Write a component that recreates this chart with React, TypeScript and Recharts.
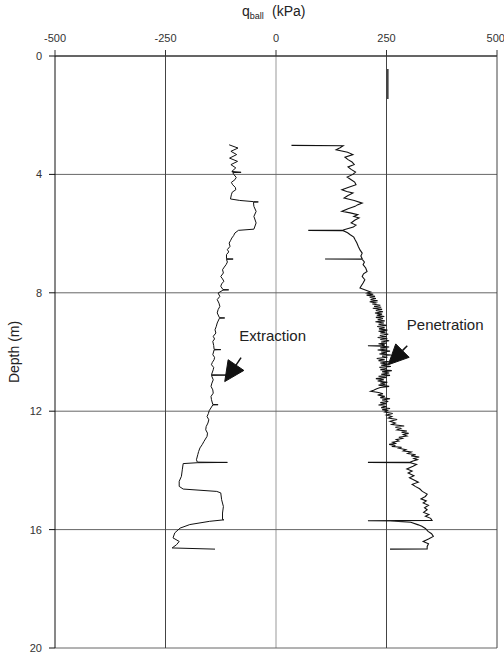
import {
  ScatterChart,
  Scatter,
  XAxis,
  YAxis,
  ReferenceLine,
  ReferenceDot,
} from "recharts";

const FONT = "'Liberation Sans', Arial, sans-serif";

const qTicks = [-500, -250, 0, 250, 500];
const depthTicks = [0, 4, 8, 12, 16, 20];
const darkGridQ = [-250, 250, 500];
const lightGridQ = [0];
const gridDepth = [4, 8, 12, 16, 20];

// extraction profile (negative resistance)
const extractionDepth = [
  3.0, 3.11, 3.22, 3.33, 3.45, 3.56, 3.67, 3.78, 3.9, 3.93, 3.94, 4.01, 4.1, 4.18, 4.27, 4.35, 4.44, 4.52, 4.6,
  4.69, 4.83, 4.88, 4.92, 4.93, 4.94, 5.08, 5.25, 5.42, 5.64, 5.85, 5.89, 5.98, 6.07, 6.15, 6.24, 6.32, 6.43,
  6.54, 6.62, 6.71, 6.85, 6.86, 6.87, 6.96, 7.05, 7.13, 7.22, 7.33, 7.45, 7.53, 7.61, 7.7, 7.78, 7.89, 7.9,
  7.91, 8.01, 8.12, 8.23, 8.35, 8.46, 8.57, 8.68, 8.84, 8.85, 8.86, 9.02, 9.13, 9.25, 9.36, 9.47, 9.56, 9.64,
  9.78, 9.91, 9.92, 9.93, 10.09, 10.18, 10.26, 10.35, 10.43, 10.52, 10.6, 10.77, 10.78, 10.79, 10.94, 11.05,
  11.16, 11.28, 11.39, 11.5, 11.61, 11.77, 11.78, 11.79, 11.98, 12.08, 12.18, 12.29, 12.4, 12.52, 12.63, 12.74,
  12.85, 13.02, 13.13, 13.24, 13.36, 13.47, 13.64, 13.72, 13.73, 13.74, 13.77, 13.98, 14.2, 14.37, 14.54, 14.63,
  14.71, 14.76, 14.99, 15.22, 15.44, 15.66, 15.67, 15.72, 15.83, 15.95, 16.11, 16.28, 16.4, 16.51, 16.62,
  16.66,
];
const extractionQ = [
  -106, -86, -102, -89, -105, -87, -102, -91, -100, -79, -98, -95, -90, -93, -101, -98, -92, -91, -99,
  -101, -103, -82, -51, -40, -51, -50, -45, -50, -45, -50, -85, -93, -96, -100, -103, -106, -104,
  -110, -107, -112, -112, -97, -112, -110, -113, -117, -121, -119, -125, -121, -118, -123, -125, -120, -107,
  -120, -131, -127, -133, -129, -127, -131, -133, -128, -116, -128, -133, -135, -138, -136, -142, -139, -143,
  -141, -140, -125, -140, -143, -139, -140, -144, -146, -141, -142, -146, -112, -146, -142, -145,
  -147, -143, -142, -147, -146, -143, -131, -143, -151, -153, -156, -152, -154, -158, -159, -155,
  -156, -163, -167, -172, -175, -177, -180, -178, -110, -178, -210, -212, -214, -219, -219, -210,
  -134, -125, -123, -119, -121, -121, -118, -150, -195, -217, -229, -233, -219, -225, -235,
  -138,
];

// penetration profile
const penetrationDepth = [
  3.02, 3.03, 3.1, 3.17, 3.25, 3.33, 3.42, 3.5, 3.58, 3.67,
  3.75, 3.83, 3.92, 4.0, 4.09, 4.18, 4.26, 4.35, 4.44, 4.52,
  4.58, 4.63, 4.72, 4.8, 4.88, 4.97, 5.03, 5.08, 5.16, 5.25,
  5.3, 5.36, 5.42, 5.47, 5.55, 5.64, 5.71, 5.78, 5.88, 5.89,
  5.9, 5.97, 6.04, 6.12, 6.21, 6.32, 6.43, 6.55, 6.66, 6.76,
  6.85, 6.86, 6.87, 6.96, 7.05, 7.16, 7.28, 7.36, 7.45, 7.56,
  7.67, 7.76, 7.84, 7.92, 7.97, 8.01, 8.05, 8.08, 8.12, 8.15,
  8.19, 8.23, 8.27, 8.3, 8.34, 8.38, 8.42, 8.46, 8.49, 8.52,
  8.56, 8.6, 8.64, 8.68, 8.72, 8.76, 8.8, 8.83, 8.87, 8.91,
  8.95, 8.98, 9.02, 9.06, 9.1, 9.14, 9.18, 9.22, 9.26, 9.3,
  9.33, 9.36, 9.4, 9.44, 9.48, 9.51, 9.55, 9.58, 9.62, 9.66,
  9.7, 9.72, 9.76, 9.78, 9.79, 9.8, 9.83, 9.86, 9.9, 9.93,
  9.97, 10.0, 10.03, 10.07, 10.1, 10.14, 10.18, 10.22, 10.26, 10.29,
  10.33, 10.37, 10.41, 10.45, 10.49, 10.52, 10.56, 10.6, 10.63, 10.67,
  10.71, 10.75, 10.79, 10.82, 10.86, 10.9, 10.94, 10.98, 11.02, 11.05,
  11.09, 11.12, 11.16, 11.2, 11.24, 11.28, 11.33, 11.37, 11.41, 11.45,
  11.5, 11.54, 11.58, 11.62, 11.67, 11.71, 11.75, 11.79, 11.84, 11.88,
  11.91, 11.95, 11.98, 12.03, 12.08, 12.13, 12.18, 12.23, 12.28, 12.34,
  12.4, 12.45, 12.5, 12.54, 12.58, 12.63, 12.67, 12.71, 12.75, 12.79,
  12.84, 12.88, 12.92, 12.96, 13.01, 13.05, 13.09, 13.12, 13.16, 13.19,
  13.22, 13.25, 13.3, 13.34, 13.38, 13.43, 13.47, 13.51, 13.55, 13.6,
  13.64, 13.68, 13.72, 13.73, 13.74, 13.8, 13.86, 13.95, 14.02, 14.09,
  14.18, 14.25, 14.31, 14.4, 14.47, 14.54, 14.62, 14.71, 14.8, 14.88,
  14.96, 15.03, 15.1, 15.18, 15.26, 15.33, 15.42, 15.49, 15.55, 15.62,
  15.69, 15.7, 15.71, 15.75, 15.84, 15.89, 15.96, 16.06, 16.14, 16.23,
  16.32, 16.4, 16.48, 16.57, 16.65, 16.66,
];
const penetrationQ = [
  35, 152, 145, 136, 162, 174, 156, 163, 172, 177,
  163, 170, 180, 174, 161, 170, 178, 181, 163, 149,
  160, 174, 162, 154, 177, 195, 184, 179, 163, 149,
  168, 185, 176, 188, 178, 170, 181, 175, 152, 73,
  152, 162, 168, 176, 179, 183, 186, 190, 195, 192,
  195, 111, 195, 200, 197, 203, 206, 198, 195, 201,
  197, 193, 190, 205, 214, 206, 220, 205, 224, 212,
  226, 214, 230, 212, 226, 218, 236, 222, 238, 219,
  240, 226, 242, 224, 240, 228, 245, 226, 242, 230,
  246, 225, 244, 232, 250, 229, 246, 233, 252, 232,
  248, 236, 254, 235, 250, 230, 252, 236, 256, 238,
  250, 232, 246, 240, 208, 240, 256, 236, 252, 230,
  258, 238, 250, 234, 260, 240, 252, 228, 246, 232,
  256, 236, 254, 238, 260, 234, 250, 236, 262, 240,
  256, 238, 258, 232, 250, 226, 244, 230, 252, 236,
  248, 232, 256, 236, 228, 222, 214, 232, 242, 230,
  246, 236, 258, 240, 254, 236, 250, 232, 250, 238,
  258, 240, 252, 246, 264, 250, 262, 254, 274, 258,
  270, 262, 290, 270, 282, 274, 296, 284, 300, 288,
  296, 278, 286, 272, 278, 264, 270, 256, 270, 262,
  284, 278, 294, 288, 306, 298, 316, 306, 324, 312,
  320, 310, 304, 208, 304, 318, 310, 296, 308, 299,
  312, 302, 310, 322, 308, 315, 325, 331, 342, 338,
  328, 340, 333, 345, 336, 342, 334, 346, 338, 350,
  353, 208, 258, 305, 322, 330, 338, 344, 352, 356,
  345, 333, 345, 342, 342, 258,
];

// short trace near the surface
const surfaceDepth = [0.44, 1.45];
const surfaceQ = [253, 253];

const zip = (depths: number[], qs: number[]) =>
  depths.map((depth, i) => ({ q: qs[i], depth }));

const extraction = zip(extractionDepth, extractionQ);
const penetration = zip(penetrationDepth, penetrationQ);
const surface = zip(surfaceDepth, surfaceQ);

const noDot = () => <g />;

const Arrow = (props: any) => {
  const { x1, y1, x2, y2 } = props;
  const dx = x2 - x1;
  const dy = y2 - y1;
  const len = Math.sqrt(dx * dx + dy * dy);
  const ux = dx / len;
  const uy = dy / len;
  const headLen = 20;
  const half = 9.5;
  const bx = x2 - ux * headLen;
  const by = y2 - uy * headLen;
  const pts = `${x2},${y2} ${bx - uy * half},${by + ux * half} ${bx + uy * half},${by - ux * half}`;
  return (
    <g>
      <line x1={x1} y1={y1} x2={bx} y2={by} stroke="#111" strokeWidth={1.5} />
      <polygon points={pts} fill="#111" stroke="#111" />
    </g>
  );
};

const textShape = (label: string) => (p: any) => (
  <text
    x={p.cx}
    y={p.cy}
    dominantBaseline="central"
    fontFamily={FONT}
    fontSize={15}
    fill="#222"
  >
    {label}
  </text>
);

const TitleLabel = () => (
  <text x={242} y={16} fontFamily={FONT} fontSize={14} fill="#222">
    q
    <tspan fontSize={9} dy={3}>
      ball
    </tspan>
    <tspan x={272} dy={-3}>
      (kPa)
    </tspan>
  </text>
);

const DepthLabel = () => (
  <text
    x={14}
    y={352}
    transform="rotate(-90 14 352)"
    textAnchor="middle"
    dominantBaseline="central"
    fontFamily={FONT}
    fontSize={14}
    fill="#222"
  >
    Depth (m)
  </text>
);

export default function App() {
  return (
    <div style={{ position: "absolute", left: 0, top: 0, background: "#fff" }}>
      <ScatterChart
        width={504}
        height={654}
        margin={{ top: 26, right: 7, bottom: 6, left: 15 }}
      >
        <XAxis
          type="number"
          dataKey="q"
          orientation="top"
          domain={[-500, 500]}
          ticks={qTicks}
          allowDataOverflow
          height={30}
          tickSize={6}
          tickMargin={8}
          stroke="#333"
          tick={{ fill: "#333", fontSize: 11, fontFamily: FONT }}
          label={<TitleLabel />}
        />
        <YAxis
          type="number"
          dataKey="depth"
          reversed
          domain={[0, 20]}
          ticks={depthTicks}
          allowDataOverflow
          width={40}
          tickSize={6}
          tickMargin={7}
          stroke="#111"
          tick={{ fill: "#333", fontSize: 11, fontFamily: FONT }}
          label={<DepthLabel />}
        />
        {lightGridQ.map((v) => (
          <ReferenceLine key={`lq${v}`} x={v} stroke="#999" strokeWidth={1} />
        ))}
        {gridDepth.map((v) => (
          <ReferenceLine key={`d${v}`} y={v} stroke="#666" strokeWidth={1} />
        ))}
        <ReferenceLine y={0} stroke="#333" strokeWidth={1} />
        {darkGridQ.map((v) => (
          <ReferenceLine key={`q${v}`} x={v} stroke="#444" strokeWidth={1} />
        ))}
        <Scatter
          data={surface}
          fill="#222"
          line={{ stroke: "#333", strokeWidth: 1.5 }}
          shape={noDot}
          isAnimationActive={false}
        />
        <Scatter
          data={extraction}
          fill="#111"
          line={{ stroke: "#111", strokeWidth: 1 }}
          shape={noDot}
          isAnimationActive={false}
        />
        <Scatter
          data={penetration}
          fill="#111"
          line={{ stroke: "#111", strokeWidth: 1.1 }}
          shape={noDot}
          isAnimationActive={false}
        />
        <ReferenceLine
          segment={[
            { x: -79, y: 10.19 },
            { x: -116, y: 11.0 },
          ]}
          shape={Arrow}
        />
        <ReferenceLine
          segment={[
            { x: 297, y: 9.79 },
            { x: 254, y: 10.43 },
          ]}
          shape={Arrow}
        />
        <ReferenceDot x={-83} y={9.45} r={0} shape={textShape("Extraction")} />
        <ReferenceDot x={296} y={9.08} r={0} shape={textShape("Penetration")} />
      </ScatterChart>
    </div>
  );
}
